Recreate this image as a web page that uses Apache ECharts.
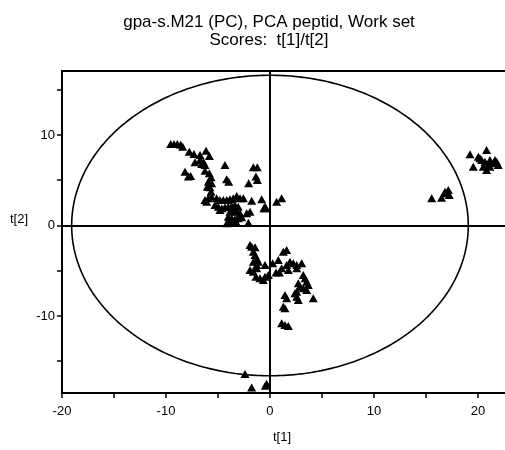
<!DOCTYPE html>
<html><head><meta charset="utf-8">
<script src="https://cdn.jsdelivr.net/npm/echarts@6/dist/echarts.min.js"></script>
<style>html,body{margin:0;padding:0;background:#fff}#c{width:505px;height:450px}</style>
</head><body><div id="c"></div>
<script>
// Score values t[1] and t[2]
const t1 = [
 -9.55,-9.23,-8.91,-8.59,-8.39,-7.76,-7.31,-6.73,-6.15,-5.83,-6.73,-6.41,-7.21,-6.57,-6.25,-8.17,-7.85,-7.63,-6.25,-5.83,
 -5.67,-5.93,-5.61,-6.03,-5.77,-5.67,-4.33,-4.17,-3.97,-1.6,-1.22,-1.35,-1.22,-2.05,-6.25,-5.93,-5.61,-6.09,-5.13,-4.81,
 -4.49,-4.16,-3.85,-3.53,-3.2,-2.88,-2.56,-5.29,-4.97,-4.64,-4.33,-4.01,-3.68,-3.37,-3.05,-4.81,-3.85,-3.53,-3.2,-2.88,
 -4.01,-3.68,-3.37,-3.05,-2.72,-4.16,-3.85,-3.27,-2.24,-1.92,-2.08,-1.76,-0.8,-0.58,-0.38,0.64,1.12,-0.48,
 -1.92,-1.76,-1.44,-1.6,-1.44,-1.28,-1.6,-1.28,-1.12,-1.92,-1.6,-1.28,-1.35,-0.96,-0.64,-0.48,-0.16,-0.48,0.26,0.58,
 0.9,0.8,1.28,1.6,1.12,1.6,1.92,2.24,2.57,3.05,1.76,2.57,3.2,3.37,3.53,3.68,2.72,2.88,3.2,2.57,
 2.4,3.53,4.16,1.44,1.6,2.72,2.57,1.28,1.44,1.12,1.44,1.76,
 -2.4,-1.76,-0.32,-0.45,
 15.55,16.5,16.83,17.15,17.24,16.99,
 19.23,20.03,20.35,20.83,19.55,20.67,20.99,21.15,21.47,21.8,21.95,20.83,21.15,20.51,20.19,21.63
];
const t2 = [
 9.0,9.0,9.0,8.93,8.7,8.15,7.9,7.79,8.27,7.68,7.24,7.05,6.98,6.8,6.69,5.95,5.4,5.47,6.06,5.77,
 5.32,4.84,4.66,4.29,4.22,3.74,6.69,5.1,4.84,6.43,6.43,5.4,5.03,4.66,2.82,3.0,3.18,2.63,3.0,2.82,
 2.82,2.82,2.9,3.0,3.26,3.0,3.0,2.27,2.08,1.9,2.01,2.08,2.15,2.27,2.08,1.71,1.52,1.71,1.52,1.35,
 0.97,0.8,0.69,0.8,0.9,0.24,0.42,0.42,1.35,1.52,0.31,2.74,2.9,1.9,1.9,2.63,3.0,2.08,
 -2.15,-2.34,-2.41,-2.9,-3.26,-3.62,-4.0,-4.36,-4.0,-4.92,-5.1,-4.73,-5.66,-5.83,-6.02,-5.66,-5.47,-4.36,-4.18,-5.2,
 -5.2,-3.81,-2.9,-2.71,-4.73,-4.36,-4.0,-4.18,-4.36,-4.18,-4.92,-4.73,-5.47,-5.83,-6.21,-6.57,-6.39,-6.76,-6.94,-7.31,
 -7.49,-7.13,-8.05,-7.68,-8.05,-8.23,-7.87,-8.97,-9.15,-10.8,-11.0,-11.1,
 -16.4,-17.9,-17.5,-17.7,
 3.0,3.07,3.73,3.92,3.37,3.56,
 7.87,7.6,7.24,8.34,6.5,7.05,6.69,7.24,6.87,7.05,6.69,6.13,6.5,6.5,7.42,7.24
];
// Axes
const xTicks = [-20,-15,-10,-5,0,5,10,15,20];
const xLabels = [-20,-10,0,10,20];
const yTicks = [-15,-10,-5,0,5,10,15];
const yLabels = [-10,0,10];
const xRange = [-20, 22.6];
const yRange = [-18.51, 17.07];
// Hotelling T2 ellipse semi-axes
const ellA = 19.07, ellB = 16.6;

const pts = t1.map((v,i)=>[v,t2[i]]);
const ell = [];
for (let k=0;k<=360;k++){const a=k*Math.PI/180; ell.push([ellA*Math.cos(a), ellB*Math.sin(a)]);}

const F = 'Liberation Sans, Arial, sans-serif';
const chart = echarts.init(document.getElementById('c'), null, {renderer:'canvas'});
chart.setOption({
  animation:false,
  title:{text:'gpa-s.M21 (PC), PCA peptid, Work set\nScores:  t[1]/t[2]', left:264, top:8, textAlign:'center',
    textStyle:{fontFamily:F, fontSize:17, fontWeight:'normal', color:'#000', lineHeight:18}},
  grid:{left:62, right:0, top:71, bottom:57, containLabel:false},
  xAxis:[{type:'value', min:xRange[0], max:xRange[1], position:'bottom',
    axisLine:{onZero:false, lineStyle:{color:'#000', width:2}},
    axisTick:{length:5, lineStyle:{color:'#000', width:1.5}, customValues:xTicks},
    axisLabel:{customValues:xLabels, margin:12, color:'#000', fontFamily:F, fontSize:13},
    splitLine:{show:false}},
   {type:'value', min:xRange[0], max:xRange[1], position:'top',
    axisLine:{onZero:false, lineStyle:{color:'#000', width:2}},
    axisTick:{show:false}, axisLabel:{show:false}, splitLine:{show:false}}],
  yAxis:{type:'value', min:yRange[0], max:yRange[1],
    axisLine:{onZero:false, lineStyle:{color:'#000', width:2}},
    axisTick:{length:5, lineStyle:{color:'#000', width:1.5}, customValues:yTicks},
    axisLabel:{customValues:yLabels, margin:7, color:'#000', fontFamily:F, fontSize:13},
    splitLine:{show:false}},
  graphic:[
    {type:'text', left:10, top:213, style:{text:'t[2]', font:'13px '+F, fill:'#000'}},
    {type:'text', left:273, top:431, style:{text:'t[1]', font:'13px '+F, fill:'#000'}}
  ],
  series:[
    {type:'line', data:ell, showSymbol:false, symbol:'none', lineStyle:{color:'#000', width:1.6}, silent:true, z:2},
    {type:'scatter', data:pts, symbol:'triangle', symbolSize:[9,8], itemStyle:{color:'#000', opacity:1}, z:3,
      markLine:{silent:true, symbol:'none', label:{show:false}, lineStyle:{color:'#000', width:2, type:'solid'},
        data:[{xAxis:0},{yAxis:0}]}}
  ]
});
</script></body></html>
